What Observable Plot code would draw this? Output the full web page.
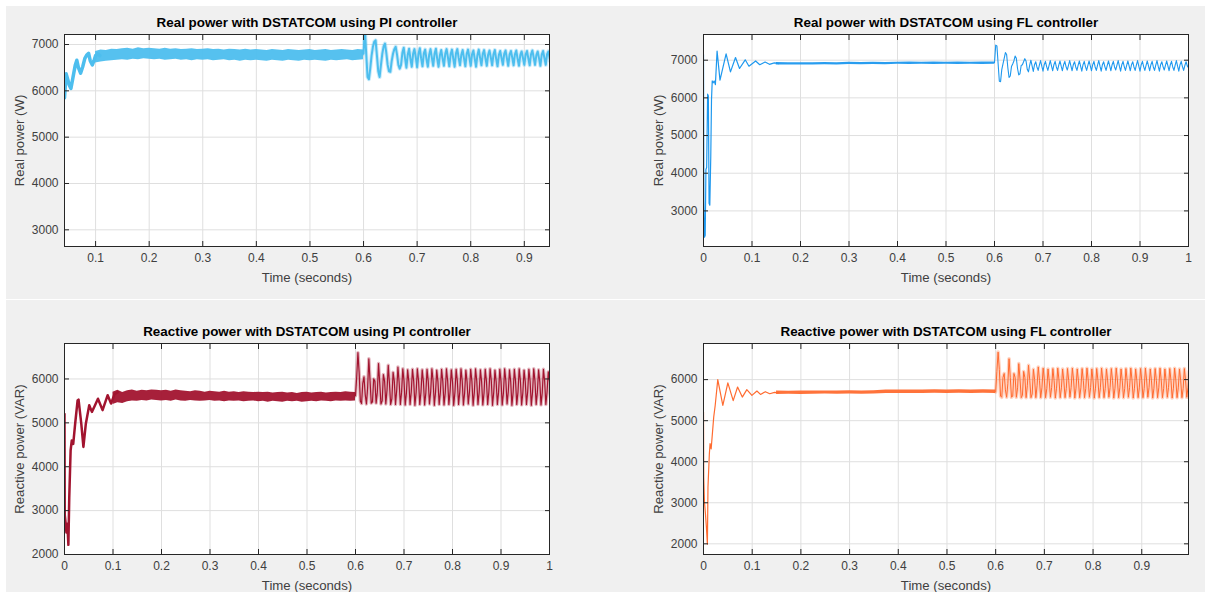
<!DOCTYPE html>
<html>
<head>
<meta charset="utf-8">
<script src="https://cdn.jsdelivr.net/npm/d3@7"></script>
<script src="https://cdn.jsdelivr.net/npm/@observablehq/plot@0.6"></script>
<style>
  body { margin: 0; background: #ffffff; }
  #fig { position: relative; width: 1205px; height: 592px; overflow: hidden; }
  .bg { position: absolute; background: #f0f0f0; }
  .panel { position: absolute; }
</style>
</head>
<body>
<div id="fig">
  <div class="bg" style="left:6px;top:6px;width:1199px;height:293px"></div>
  <div class="bg" style="left:6px;top:300px;width:1199px;height:292px"></div>
  <div class="panel" id="p1" style="left:0;top:0"></div>
  <div class="panel" id="p2" style="left:600px;top:0"></div>
  <div class="panel" id="p3" style="left:0;top:300px"></div>
  <div class="panel" id="p4" style="left:600px;top:300px"></div>
</div>
<script>
// ---------- tick labels ----------
const xTicksPIReal = [0.1, 0.2, 0.3, 0.4, 0.5, 0.6, 0.7, 0.8, 0.9];
const xTicksFull = [0, 0.1, 0.2, 0.3, 0.4, 0.5, 0.6, 0.7, 0.8, 0.9, 1];
const xTicksFLReact = [0, 0.1, 0.2, 0.3, 0.4, 0.5, 0.6, 0.7, 0.8, 0.9];
const yTicksReal = [3000, 4000, 5000, 6000, 7000];
const yTicksReact = [2000, 3000, 4000, 5000, 6000];

const titles = [
  "Real power with DSTATCOM using PI controller",
  "Real power with DSTATCOM using FL controller",
  "Reactive power with DSTATCOM using PI controller",
  "Reactive power with DSTATCOM using FL controller"
];
const xLabel = "Time (seconds)";
const yLabels = ["Real power (W)", "Real power (W)", "Reactive power (VAR)", "Reactive power (VAR)"];

// ---------- Panel 1: real power, PI ----------
const piRealStartT = [0.042, 0.045, 0.048, 0.051, 0.054, 0.058, 0.062, 0.065, 0.068, 0.072, 0.076, 0.080, 0.084, 0.087, 0.090, 0.094, 0.097, 0.100, 0.104, 0.108];
const piRealStartV = [5850, 6370, 6250, 6120, 6050, 6300, 6550, 6660, 6500, 6380, 6520, 6700, 6780, 6810, 6650, 6560, 6650, 6760, 6800, 6760];
// steady noisy band, sampled every 0.01 s from 0.10 s to 0.60 s
const piRealBandLo = [6600, 6620, 6640, 6650, 6660, 6670, 6660, 6680, 6670, 6690, 6680,
  6670, 6680, 6660, 6670, 6680, 6660, 6670, 6650, 6670, 6660,
  6670, 6650, 6660, 6670, 6650, 6660, 6640, 6660, 6650, 6660,
  6650, 6640, 6660, 6650, 6640, 6660, 6650, 6640, 6660, 6650,
  6660, 6650, 6640, 6660, 6650, 6660, 6670, 6650, 6660, 6670];
const piRealBandHi = [6850, 6880, 6870, 6900, 6890, 6910, 6920, 6900, 6930, 6910, 6920,
  6910, 6900, 6920, 6900, 6910, 6890, 6900, 6910, 6890, 6900,
  6910, 6890, 6900, 6880, 6900, 6890, 6880, 6900, 6880, 6890,
  6880, 6870, 6890, 6880, 6870, 6890, 6880, 6870, 6880, 6890,
  6870, 6880, 6890, 6870, 6880, 6890, 6880, 6870, 6890, 6880];
// after the load change, sampled every 2.5 ms from 0.60 s
const piRealOsc = [6800, 7350, 6800, 6300, 6250, 6480, 6760, 6950, 7060, 7090, 6760, 6420, 6300, 6560, 6800, 6960,
  7020, 6820, 6560, 6420, 6410, 6640, 6800, 6900, 6950, 6780, 6560, 6480, 6560,
  6820, 6930, 6700, 6500, 6780, 6910, 6690, 6520, 6800, 6900, 6720, 6510, 6790, 6920, 6700, 6530,
  6810, 6890, 6680, 6520, 6780, 6900, 6710, 6540, 6800, 6910, 6690, 6520, 6770, 6880, 6700, 6540,
  6800, 6900, 6720, 6530, 6790, 6890, 6690, 6520, 6810, 6900, 6710, 6550, 6780, 6880, 6700, 6530,
  6800, 6890, 6720, 6540, 6790, 6870, 6690, 6520, 6770, 6890, 6710, 6550, 6800, 6880, 6700, 6540,
  6780, 6870, 6720, 6550, 6790, 6880, 6690, 6530, 6770, 6860, 6710, 6560, 6800, 6870, 6700, 6540,
  6780, 6860, 6720, 6550, 6790, 6870, 6690, 6540, 6770, 6850, 6710, 6560, 6780, 6860, 6700, 6550,
  6790, 6870, 6720, 6560, 6770, 6850, 6700, 6540, 6780, 6860, 6710, 6560, 6790, 6850, 6690, 6580];

// ---------- Panel 2: real power, FL ----------
const flRealStartT = [0, 0.0008, 0.002, 0.0035, 0.005, 0.0065, 0.0085, 0.0100, 0.0115, 0.0130, 0.0150, 0.0165, 0.0180, 0.0200, 0.0220, 0.0245, 0.0280, 0.0340, 0.0466, 0.0556, 0.0660, 0.0743, 0.0860, 0.0937, 0.1075, 0.1160, 0.1270, 0.1360, 0.1460, 0.1550];
const flRealStartV = [7150, 3250, 2300, 2350, 4100, 4150, 6100, 6050, 3200, 3150, 4450, 5950, 6450, 6400, 6450, 6350, 7240, 6470, 7170, 6690, 7070, 6780, 7010, 6840, 6980, 6880, 6950, 6890, 6930, 6910];
// thin steady band, every 0.025 s from 0.15 s to 0.60 s
const flRealBandLo = [6870, 6875, 6870, 6875, 6880, 6875, 6885, 6880, 6885, 6880, 6890, 6885, 6890, 6885, 6890, 6885, 6890, 6885, 6890];
const flRealBandHi = [6940, 6930, 6935, 6930, 6940, 6935, 6945, 6940, 6945, 6940, 6945, 6950, 6945, 6950, 6945, 6950, 6945, 6950, 6950];
const flRealOsc = [6930, 7400, 7380, 6900, 6440, 6430, 6750, 6900, 7050, 7200, 7150, 6800, 6540, 6580, 6830, 6900,
  6980, 7110, 7050, 6780, 6610, 6640, 6860, 6880, 6960, 7040, 6980, 6760, 6690,
  6860, 7000, 6850, 6700, 6880, 6960, 6820, 6730, 6870, 6990, 6840, 6710, 6880, 6970, 6830, 6730,
  6860, 6990, 6850, 6720, 6880, 6970, 6820, 6730, 6870, 6980, 6840, 6720, 6880, 6970, 6830, 6740,
  6860, 6990, 6850, 6720, 6880, 6960, 6820, 6730, 6870, 6980, 6840, 6710, 6880, 6970, 6830, 6730,
  6860, 6980, 6850, 6720, 6880, 6970, 6820, 6730, 6870, 6990, 6840, 6710, 6880, 6960, 6830, 6730,
  6860, 6980, 6850, 6720, 6880, 6970, 6820, 6740, 6870, 6990, 6840, 6710, 6880, 6970, 6830, 6730,
  6860, 6980, 6850, 6720, 6880, 6960, 6820, 6730, 6870, 6990, 6840, 6710, 6880, 6970, 6830, 6730,
  6860, 6980, 6850, 6720, 6880, 6970, 6820, 6730, 6870, 6990, 6840, 6710, 6880, 6960, 6830, 6740,
  6860, 6980, 6850, 6720, 6880, 6970, 6820, 6730, 6870, 6990, 6840, 6710, 6880, 6970, 6830, 6730,
  6860, 6960, 6850, 6800];

// ---------- Panel 3: reactive power, PI ----------
const piReactStartT = [0, 0.0005, 0.002, 0.004, 0.006, 0.008, 0.0098, 0.0126, 0.015, 0.018, 0.022, 0.027, 0.029, 0.0346, 0.039, 0.044, 0.051, 0.0565, 0.062, 0.069, 0.0785, 0.089, 0.096, 0.103, 0.110];
const piReactStartV = [5200, 2900, 2750, 2500, 2700, 2220, 3300, 4370, 4600, 4520, 4980, 5510, 5530, 4980, 4450, 4980, 5400, 5250, 5380, 5550, 5290, 5630, 5440, 5650, 5700];
const piReactBandLo = [5420, 5460, 5440, 5480, 5500, 5490, 5510, 5500, 5520, 5510, 5500,
  5510, 5490, 5520, 5500, 5490, 5510, 5500, 5490, 5500, 5510,
  5490, 5500, 5480, 5500, 5490, 5500, 5480, 5490, 5500, 5480,
  5490, 5470, 5490, 5480, 5470, 5490, 5480, 5490, 5470, 5480,
  5490, 5480, 5500, 5490, 5480, 5500, 5490, 5500, 5490, 5500];
const piReactBandHi = [5700, 5740, 5690, 5730, 5750, 5720, 5740, 5730, 5750, 5740, 5730,
  5740, 5720, 5750, 5730, 5720, 5710, 5730, 5720, 5700, 5720,
  5710, 5700, 5720, 5700, 5710, 5690, 5710, 5700, 5690, 5700,
  5690, 5700, 5680, 5690, 5700, 5680, 5690, 5670, 5690, 5700,
  5680, 5690, 5700, 5680, 5690, 5700, 5690, 5710, 5700, 5690];
const piReactOsc = [5620, 6050, 6600, 6150, 5500, 5440, 5900, 6050, 5650, 5430, 5800, 6460, 5950, 5450, 5480, 6000,
  5950, 5450, 5700, 6350, 5900, 5430, 5500, 6100, 5950, 5430, 5750, 6310, 5900, 5420, 5550, 6150,
  5950, 5420, 5750, 6270, 5920, 5420,
  5700, 6230, 5960, 5410, 5680, 6210, 5940, 5420, 5710, 6220, 5950, 5400, 5690, 6230, 5960, 5420,
  5700, 6210, 5940, 5410, 5680, 6220, 5950, 5430, 5710, 6230, 5960, 5400, 5690, 6200, 5940, 5420,
  5700, 6220, 5950, 5410, 5680, 6230, 5960, 5420, 5710, 6210, 5940, 5400, 5690, 6220, 5950, 5420,
  5700, 6230, 5960, 5410, 5680, 6200, 5940, 5430, 5710, 6220, 5950, 5400, 5690, 6230, 5960, 5420,
  5700, 6210, 5940, 5410, 5680, 6220, 5950, 5420, 5710, 6230, 5960, 5400, 5690, 6200, 5940, 5420,
  5700, 6220, 5950, 5410, 5680, 6230, 5960, 5430, 5710, 6210, 5940, 5400, 5690, 6220, 5950, 5420,
  5700, 6230, 5960, 5410, 5680, 6200, 5940, 5420, 5710, 6220, 5950, 5400, 5690, 6230, 5960, 5420,
  5700, 6210, 5940, 5410, 5680, 6220, 5950, 5420, 5710, 6160, 5950, 5600];

// ---------- Panel 4: reactive power, FL ----------
const flReactStartT = [0, 0.0005, 0.002, 0.004, 0.006, 0.008, 0.0092, 0.012, 0.0135, 0.0157, 0.021, 0.024, 0.0293, 0.0397, 0.050, 0.061, 0.070, 0.0797, 0.089, 0.0994, 0.1097, 0.117, 0.127, 0.136, 0.146, 0.155];
const flReactStartV = [5210, 3620, 3010, 2730, 2400, 1990, 3380, 4190, 4440, 4310, 5090, 5370, 6000, 5370, 5920, 5490, 5820, 5575, 5756, 5616, 5722, 5640, 5706, 5657, 5690, 5680];
const flReactBandLo = [5640, 5645, 5640, 5645, 5650, 5645, 5650, 5645, 5650, 5660, 5665, 5660, 5665, 5670, 5665, 5670, 5665, 5670, 5665];
const flReactBandHi = [5720, 5715, 5720, 5725, 5720, 5725, 5730, 5725, 5730, 5745, 5750, 5745, 5750, 5755, 5750, 5755, 5750, 5755, 5750];
const flReactOsc = [5700, 6200, 6670, 6250, 5600, 5570, 6050, 6150, 5750, 5570, 5900, 6510, 6050, 5570, 5600, 6150,
  6050, 5570, 5800, 6390, 6000, 5560, 5620, 6200, 6050, 5560, 5850, 6350, 5980, 5560, 5650, 6250,
  6000, 5560, 5850, 6310, 5980, 5560,
  5800, 6280, 5990, 5560, 5780, 6260, 5970, 5570, 5810, 6270, 5980, 5550, 5790, 6280, 5990, 5560,
  5800, 6260, 5970, 5560, 5780, 6270, 5980, 5570, 5810, 6280, 5990, 5550, 5790, 6260, 5970, 5560,
  5800, 6270, 5980, 5560, 5780, 6280, 5990, 5570, 5810, 6260, 5970, 5550, 5790, 6270, 5980, 5560,
  5800, 6280, 5990, 5560, 5780, 6260, 5970, 5570, 5810, 6270, 5980, 5550, 5790, 6280, 5990, 5560,
  5800, 6260, 5970, 5560, 5780, 6270, 5980, 5570, 5810, 6280, 5990, 5550, 5790, 6260, 5970, 5560,
  5800, 6270, 5980, 5560, 5780, 6280, 5990, 5570, 5810, 6260, 5970, 5550, 5790, 6270, 5980, 5560,
  5800, 6280, 5990, 5560, 5780, 6260, 5970, 5570, 5810, 6270, 5980, 5550, 5790, 6280, 5990, 5560,
  5800, 6260, 5970, 5560, 5780, 6270, 5980, 5570, 5810, 6200, 5990, 5700];

// sampling grids
const oscStart = 0.6, oscStep = 0.0025;
const piBandStart = 0.10, piBandStep = 0.01;
const flBandStart = 0.15, flBandStep = 0.025;

// ---------- helpers ----------
const pairs = (t, v) => t.map((d, i) => ({t: d, v: v[i]}));
const sampled = (start, step, v) => v.map((d, i) => ({t: start + i * step, v: d}));
const banded = (start, step, lo, hi) => lo.map((d, i) => ({t: start + i * step, lo: d, hi: hi[i]}));
const fmt = d => `${d}`;
const FONT = "'Liberation Sans', Arial, Helvetica, sans-serif";

function panel(o) {
  const marks = [
    Plot.frame({fill: "white", stroke: null}),
    Plot.gridX(o.xTicks, {stroke: "#dfdfdf", strokeOpacity: 1}),
    Plot.gridY(o.yTicks, {stroke: "#dfdfdf", strokeOpacity: 1}),
    Plot.areaY(o.band, {x: "t", y1: "lo", y2: "hi", fill: o.color, fillOpacity: 0.95, clip: true}),
    Plot.line(o.start, {x: "t", y: "v", stroke: o.color, strokeWidth: o.sw1, clip: true})
  ];
  if (o.halo) marks.push(Plot.line(o.osc, {x: "t", y: "v", stroke: o.color, strokeWidth: o.halo, strokeOpacity: 0.3, clip: true}));
  marks.push(
    Plot.line(o.osc, {x: "t", y: "v", stroke: o.color, strokeWidth: o.sw2, clip: true}),
    Plot.frame({stroke: "#262626", strokeWidth: 1}),
    Plot.axisX(o.xTicks, {anchor: "bottom", tickSize: -5, tickPadding: 12, tickFormat: fmt, label: null, stroke: "#262626", fill: "#404040", fontSize: 12}),
    Plot.axisX(o.xTicks, {anchor: "top", tickSize: -5, fill: "none", label: null, stroke: "#262626"}),
    Plot.axisY(o.yTicks, {anchor: "left", tickSize: -5, tickPadding: 11, tickFormat: fmt, label: null, stroke: "#262626", fill: "#404040", fontSize: 12}),
    Plot.axisY(o.yTicks, {anchor: "right", tickSize: -5, fill: "none", label: null, stroke: "#262626"}),
    Plot.text([o.title], {frameAnchor: "top", lineAnchor: "middle", textAnchor: "middle", dy: -11.5, fontWeight: "bold", fontSize: 13.4, fill: "#000"}),
    Plot.text([xLabel], {frameAnchor: "bottom", lineAnchor: "middle", textAnchor: "middle", dy: 31.5, fontSize: 13.2, fill: "#404040"}),
    Plot.text([o.ylabel], {frameAnchor: "left", lineAnchor: "middle", textAnchor: "middle", dx: o.ydx, rotate: -90, fontSize: 13.2, fill: "#404040"})
  );
  return Plot.plot({
    width: o.width, height: o.height,
    marginLeft: o.ml, marginRight: o.mr, marginTop: o.mt, marginBottom: o.mb,
    x: {domain: o.xDomain},
    y: {domain: o.yDomain},
    style: {background: "transparent", fontFamily: FONT, fontSize: "12px", color: "#404040", overflow: "visible"},
    marks
  });
}

document.getElementById("p1").append(panel({
  width: 600, height: 299, ml: 64, mr: 51, mt: 34, mb: 53,
  xDomain: [0.042, 0.947], yDomain: [2640, 7216], xTicks: xTicksPIReal, yTicks: yTicksReal,
  color: "#4DBEEE", title: titles[0], ylabel: yLabels[0], ydx: -45,
  start: pairs(piRealStartT, piRealStartV), band: banded(piBandStart, piBandStep, piRealBandLo, piRealBandHi),
  osc: sampled(oscStart, oscStep, piRealOsc), sw1: 3.5, sw2: 2, halo: 4
}));
document.getElementById("p2").append(panel({
  width: 605, height: 299, ml: 103, mr: 17, mt: 34, mb: 53,
  xDomain: [0, 1], yDomain: [2055, 7682], xTicks: xTicksFull, yTicks: yTicksReal,
  color: "#1E98EE", title: titles[1], ylabel: yLabels[1], ydx: -44.5,
  start: pairs(flRealStartT, flRealStartV), band: banded(flBandStart, flBandStep, flRealBandLo, flRealBandHi),
  osc: sampled(oscStart, oscStep, flRealOsc), sw1: 1.2, sw2: 1.1, halo: 0
}));
document.getElementById("p3").append(panel({
  width: 600, height: 292, ml: 64, mr: 51, mt: 43, mb: 38,
  xDomain: [0, 1], yDomain: [2000, 6808], xTicks: xTicksFull, yTicks: yTicksReact,
  color: "#A2142F", title: titles[2], ylabel: yLabels[2], ydx: -45,
  start: pairs(piReactStartT, piReactStartV), band: banded(piBandStart, piBandStep, piReactBandLo, piReactBandHi),
  osc: sampled(oscStart, oscStep, piReactOsc), sw1: 2.5, sw2: 1.2, halo: 3.5
}));
document.getElementById("p4").append(panel({
  width: 605, height: 292, ml: 103, mr: 17, mt: 43, mb: 38,
  xDomain: [0, 0.996], yDomain: [1740, 6880], xTicks: xTicksFLReact, yTicks: yTicksReact,
  color: "#FF6B30", title: titles[3], ylabel: yLabels[3], ydx: -44.5,
  start: pairs(flReactStartT, flReactStartV), band: banded(flBandStart, flBandStep, flReactBandLo, flReactBandHi),
  osc: sampled(oscStart, oscStep, flReactOsc), sw1: 1.2, sw2: 1, halo: 3.5
}));
</script>
</body>
</html>
